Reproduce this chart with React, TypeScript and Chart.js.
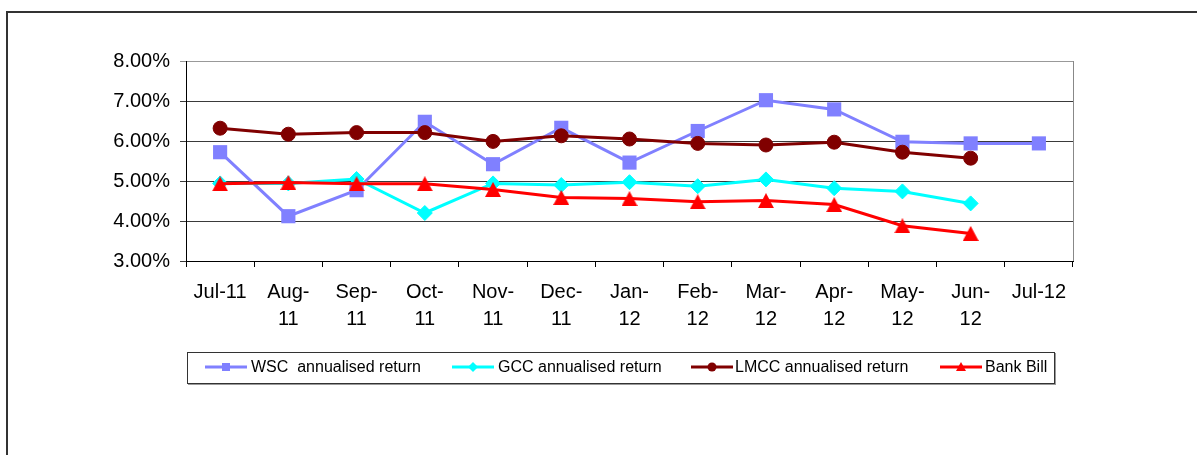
import React, { useEffect, useRef } from "react";
import { Chart, registerables } from "chart.js";

Chart.register(...registerables);

const categories: (string | string[])[] = [
  "Jul-11",
  ["Aug-", "11"],
  ["Sep-", "11"],
  ["Oct-", "11"],
  ["Nov-", "11"],
  ["Dec-", "11"],
  ["Jan-", "12"],
  ["Feb-", "12"],
  ["Mar-", "12"],
  ["Apr-", "12"],
  ["May-", "12"],
  ["Jun-", "12"],
  "Jul-12",
];

const wscReturn = [5.72, 4.12, 4.77, 6.48, 5.42, 6.33, 5.46, 6.25, 7.02, 6.79, 5.98, 5.94, 5.94];
const gccReturn = [4.94, 4.94, 5.05, 4.2, 4.94, 4.9, 4.97, 4.87, 5.04, 4.82, 4.74, 4.44, null];
const lmccReturn = [6.32, 6.17, 6.21, 6.21, 5.99, 6.13, 6.05, 5.94, 5.9, 5.97, 5.72, 5.57, null];
const bankBill = [4.93, 4.96, 4.93, 4.93, 4.79, 4.59, 4.56, 4.48, 4.51, 4.41, 3.88, 3.69, null];

const seriesNames = ["WSC  annualised return", "GCC annualised return", "LMCC annualised return", "Bank Bill"];
const seriesColors = ["#8080FF", "#00FFFF", "#800000", "#FF0000"];

const yMin = 3;
const yMax = 8;
const yStep = 1;

const FONT = "'Liberation Sans', Arial, sans-serif";

function makeTriangle(color: string, w: number, h: number) {
  const c = document.createElement("canvas");
  c.width = w;
  c.height = h;
  const ctx = c.getContext("2d")!;
  ctx.fillStyle = color;
  ctx.beginPath();
  ctx.moveTo(w / 2, 0);
  ctx.lineTo(w, h);
  ctx.lineTo(0, h);
  ctx.closePath();
  ctx.fill();
  return c;
}

const rightBorderPlugin = {
  id: "rightBorder",
  afterDraw(chart: any) {
    const { ctx, chartArea } = chart;
    ctx.save();
    ctx.strokeStyle = "#888";
    ctx.lineWidth = 1;
    ctx.beginPath();
    const x = Math.round(chartArea.right) + 0.5;
    ctx.moveTo(x, chartArea.top);
    ctx.lineTo(x, chartArea.bottom);
    ctx.stroke();
    ctx.restore();
  },
};

function LegendMarker({ idx }: { idx: number }) {
  const color = seriesColors[idx];
  let marker: React.ReactNode = null;
  if (idx === 0) marker = <rect x={17} y={3} width={8} height={8} fill={color} />;
  if (idx === 1) marker = <polygon points="21,2 26,7 21,12 16,7" fill={color} />;
  if (idx === 2) marker = <circle cx={21} cy={7} r={4.5} fill={color} />;
  if (idx === 3) marker = <polygon points="21,2 26,11 16,11" fill={color} />;
  return (
    <svg width={42} height={14} style={{ display: "block" }}>
      <line x1={0} y1={7} x2={42} y2={7} stroke={color} strokeWidth={3} />
      {marker}
    </svg>
  );
}

export default function App() {
  const canvasRef = useRef<HTMLCanvasElement | null>(null);

  useEffect(() => {
    const canvas = canvasRef.current!;
    const tri = makeTriangle(seriesColors[3], 16, 15);
    const chart = new Chart(canvas, {
      type: "line",
      data: {
        labels: categories as any,
        datasets: [
          {
            label: seriesNames[0],
            data: wscReturn,
            borderColor: seriesColors[0],
            backgroundColor: seriesColors[0],
            borderWidth: 3,
            pointStyle: "rect",
            pointRadius: 10,
            pointBorderWidth: 0,
            order: 3,
          },
          {
            label: seriesNames[1],
            data: gccReturn,
            borderColor: seriesColors[1],
            backgroundColor: seriesColors[1],
            borderWidth: 3,
            pointStyle: "rectRot",
            pointRadius: 7.5,
            pointBorderWidth: 1,
            order: 2,
          },
          {
            label: seriesNames[2],
            data: lmccReturn,
            borderColor: seriesColors[2],
            backgroundColor: seriesColors[2],
            borderWidth: 3,
            pointStyle: "circle",
            pointRadius: 7,
            pointBorderWidth: 1,
            order: 1,
          },
          {
            label: seriesNames[3],
            data: bankBill,
            borderColor: seriesColors[3],
            backgroundColor: seriesColors[3],
            borderWidth: 3,
            pointStyle: tri as any,
            pointRadius: 8,
            order: 0,
          },
        ] as any,
      },
      options: {
        animation: false,
        responsive: false,
        devicePixelRatio: 1,
        spanGaps: false,
        layout: { padding: { left: 0, top: 61, right: 124, bottom: 104 } },
        plugins: {
          legend: { display: false },
          tooltip: { enabled: false },
        },
        scales: {
          x: {
            type: "category",
            offset: true,
            grid: {
              offset: true,
              drawOnChartArea: false,
              drawTicks: true,
              tickLength: 6,
              color: "#000",
            },
            border: { color: "#000", width: 1 },
            ticks: {
              autoSkip: false,
              maxRotation: 0,
              minRotation: 0,
              padding: 12,
              color: "#000",
              font: { family: FONT, size: 20, lineHeight: 1.35 },
            },
            afterFit(scale: any) {
              scale.height = 90;
            },
          },
          y: {
            type: "linear",
            min: yMin,
            max: yMax,
            ticks: {
              stepSize: yStep,
              padding: 10,
              color: "#000",
              font: { family: FONT, size: 20 },
              callback: (v: any) => Number(v).toFixed(2) + "%",
            },
            grid: {
              tickLength: 6,
              color: (ctx: any) => (ctx.tick && ctx.tick.value === yMax ? "#999" : "#3a3a3a"),
            },
            border: { color: "#000", width: 1 },
            afterFit(scale: any) {
              scale.width = 186;
            },
          },
        },
      } as any,
      plugins: [rightBorderPlugin],
    });
    return () => chart.destroy();
  }, []);

  const legendItems = [
    { line: 205, text: 251 },
    { line: 452, text: 498 },
    { line: 691, text: 735 },
    { line: 940, text: 985 },
  ];

  return (
    <div
      style={{
        position: "absolute",
        left: 0,
        top: 0,
        width: 1197,
        height: 455,
        overflow: "hidden",
        background: "#fff",
        fontFamily: FONT,
      }}
    >
      <div
        style={{
          position: "absolute",
          left: 6,
          top: 11,
          width: 1400,
          height: 700,
          borderTop: "2px solid #333",
          borderLeft: "2px solid #333",
        }}
      />
      <canvas
        ref={canvasRef}
        width={1197}
        height={455}
        style={{ position: "absolute", left: 0, top: 0, width: 1197, height: 455 }}
      />
      <div
        style={{
          position: "absolute",
          left: 187,
          top: 352,
          width: 866,
          height: 30,
          border: "1px solid #333",
          boxShadow: "1px 1px 0 #999",
          background: "#fff",
        }}
      />
      {legendItems.map((it, i) => (
        <React.Fragment key={i}>
          <div style={{ position: "absolute", left: it.line, top: 360 }}>
            <LegendMarker idx={i} />
          </div>
          <div
            style={{
              position: "absolute",
              left: it.text,
              top: 357,
              fontSize: 16,
              lineHeight: "20px",
              color: "#000",
              whiteSpace: "pre",
            }}
          >
            {seriesNames[i]}
          </div>
        </React.Fragment>
      ))}
    </div>
  );
}
